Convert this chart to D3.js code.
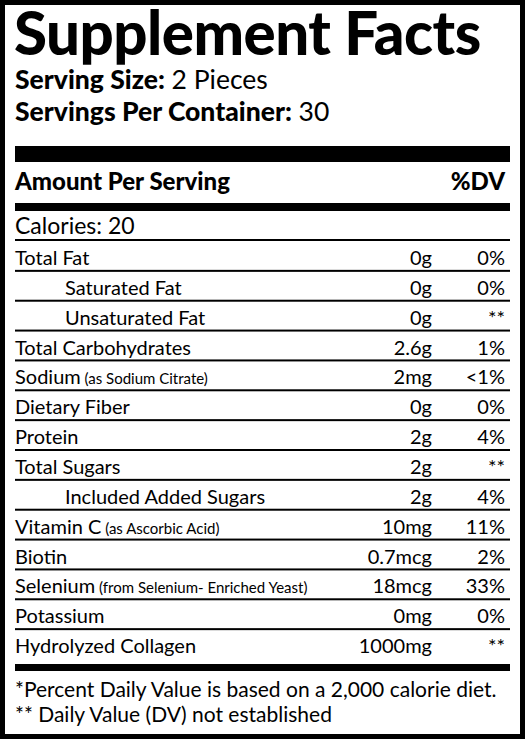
<!DOCTYPE html><html><head><meta charset="utf-8"><script src="https://cdn.jsdelivr.net/npm/d3@7"></script>
<style>body{margin:0;background:#fff}svg{display:block}text{font-family:Lato,"Open Sans",sans-serif;fill:#000}</style></head><body>
<script>
const nutrients=["Total Fat","Saturated Fat","Unsaturated Fat","Total Carbohydrates","Sodium","Dietary Fiber","Protein","Total Sugars","Included Added Sugars","Vitamin C","Biotin","Selenium","Potassium","Hydrolyzed Collagen"];
const notes=["","","","","(as Sodium Citrate)","","","","","(as Ascorbic Acid)","","(from Selenium- Enriched Yeast)","",""];
const indent=[0,1,1,0,0,0,0,0,2,0,0,0,0,0];
const amounts=["0g","0g","0g","2.6g","2mg","0g","2g","2g","2g","10mg","0.7mcg","18mcg","0mg","1000mg"];
const dv=["0%","0%","**","1%","<1%","0%","4%","**","4%","11%","2%","33%","0%","**"];
const W=525,H=739;
const svg=d3.select("body").append("svg").attr("width",W).attr("height",H);
svg.append("rect").attr("x",2.5).attr("y",2.5).attr("width",W-5).attr("height",H-5).attr("fill","none").attr("stroke","#000").attr("stroke-width",5);
const L=15,R=510;
svg.append("text").attr("x",14).attr("y",55).attr("font-size",60).attr("font-weight",900).attr("letter-spacing",-0.5).text("Supplement Facts");
const t1=svg.append("text").attr("x",15).attr("y",89).attr("font-size",26.5);
t1.append("tspan").attr("font-weight",900).text("Serving Size:");t1.append("tspan").text(" 2 Pieces");
const t2=svg.append("text").attr("x",15).attr("y",121).attr("font-size",26.5);
t2.append("tspan").attr("font-weight",900).text("Servings Per Container:");t2.append("tspan").text(" 30");
svg.append("rect").attr("x",L).attr("y",146).attr("width",R-L).attr("height",16);
svg.append("text").attr("x",L).attr("y",190).attr("font-size",24).attr("font-weight",900).text("Amount Per Serving");
svg.append("text").attr("x",505).attr("y",190).attr("font-size",24).attr("font-weight",900).attr("text-anchor","end").text("%DV");
svg.append("rect").attr("x",L).attr("y",203).attr("width",R-L).attr("height",8);
svg.append("text").attr("x",L).attr("y",234).attr("font-size",23).text("Calories: 20");
svg.append("rect").attr("x",L).attr("y",239).attr("width",R-L).attr("height",2);
const y=d3.scaleBand().domain(d3.range(nutrients.length)).range([241,659]);
const g=svg.selectAll("g.row").data(nutrients).join("g").attr("transform",(d,i)=>`translate(0,${y(i)})`);
const lab=g.append("text").attr("x",(d,i)=>L+[0,50,50,40][indent[i]]).attr("y",24).attr("font-size",20);
lab.append("tspan").text(d=>d);
lab.append("tspan").attr("font-size",15).text((d,i)=>notes[i]?" "+notes[i]:"");
g.append("text").attr("x",432).attr("y",24).attr("font-size",20).attr("text-anchor","end").text((d,i)=>amounts[i]);
g.append("text").attr("x",505).attr("y",24).attr("font-size",20).attr("text-anchor","end").text((d,i)=>dv[i]);
g.filter((d,i)=>i<nutrients.length-1).append("rect").attr("x",L).attr("y",y.bandwidth()-1).attr("width",R-L).attr("height",2);
svg.append("rect").attr("x",L).attr("y",664).attr("width",R-L).attr("height",7);
svg.append("text").attr("x",L).attr("y",697).attr("font-size",21).text("*Percent Daily Value is based on a 2,000 calorie diet.");
svg.append("text").attr("x",L).attr("y",722).attr("font-size",21).text("** Daily Value (DV) not established");
</script></body></html>
